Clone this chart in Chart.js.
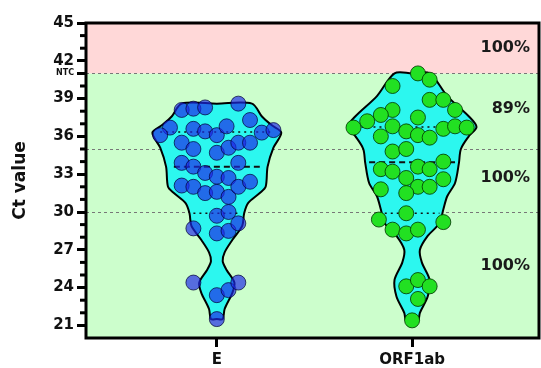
<!DOCTYPE html>
<html>
<head>
<meta charset="utf-8">
<script src="https://cdn.jsdelivr.net/npm/chart.js@4.4.1/dist/chart.umd.min.js"></script>
<style>
  html, body { margin: 0; padding: 0; background: #fff; }
  #wrap { width: 541px; height: 368px; }
</style>
</head>
<body>
<div id="wrap"><canvas id="violinChart"></canvas></div>
<script>
const categories = ['E', 'ORF1ab'];

// Ct of each sample and its sideways scatter offset (category units)
const eCt = [38.1, 38.2, 38.3, 38.6, 37.3, 36.7, 36.6, 36.4, 36.1, 36.8, 36.3, 36.5, 36.1, 35.5, 35.0, 34.7, 35.1, 35.5, 35.5,
  33.9, 33.6, 33.1, 32.8, 32.7, 33.9, 32.1, 32.0, 31.5, 31.6, 31.2, 32.0, 32.4, 29.7, 30.0, 28.7, 28.3, 28.5, 29.1,
  24.4, 23.4, 23.8, 24.4, 21.5];
const eOffset = [-0.18, -0.12, -0.06, 0.11, 0.17, -0.24, -0.12, -0.06, 0, 0.05, 0.23, 0.29, -0.29, -0.18, -0.12, 0, 0.06, 0.11, 0.17,
  -0.18, -0.12, -0.06, 0, 0.06, 0.11, -0.18, -0.12, -0.06, 0, 0.06, 0.11, 0.17, 0, 0.06, -0.12, 0, 0.06, 0.11,
  -0.12, 0, 0.06, 0.11, 0];
const orfCt = [41.0, 40.5, 40.0, 38.9, 38.9, 38.1, 38.1, 37.7, 37.2, 37.5, 36.7, 36.8, 36.4, 36.1, 35.9, 36.6, 36.8, 36.7, 36.0,
  34.8, 35.0, 33.4, 33.2, 32.7, 33.6, 33.4, 34.0, 32.6, 32.0, 32.0, 31.8, 31.5, 29.9, 29.4, 29.2, 28.6, 28.3, 28.6,
  24.1, 24.6, 24.1, 23.1, 21.4];
const orfOffset = [0.03, 0.09, -0.10, 0.09, 0.16, 0.22, -0.10, -0.16, -0.23, 0.03, -0.30, -0.10, -0.03, 0.03, 0.09, 0.16, 0.22, 0.28, -0.16,
  -0.10, -0.03, -0.16, -0.10, -0.03, 0.03, 0.09, 0.16, 0.16, 0.03, 0.09, -0.16, -0.03, -0.03, -0.17, 0.16, -0.10, -0.03, 0.03,
  -0.03, 0.03, 0.09, 0.03, 0];

// violin outline, top to bottom: Ct level and half width (category units)
const eViolinCt = [38.6, 37.6, 36.9, 36.3, 35.1, 33.6, 32.0, 31.5, 30.7, 29.9, 28.9, 27.8, 26.8, 26.1, 25.4, 24.4, 23.6, 22.3, 21.5];
const eViolinHalf = [0.18, 0.23, 0.28, 0.33, 0.29, 0.26, 0.25, 0.22, 0.16, 0.14, 0.13, 0.08, 0.04, 0.03, 0.05, 0.09, 0.08, 0.04, 0.03];
const orfViolinCt = [41.0, 39.2, 37.6, 36.75, 36.0, 35.0, 33.9, 32.3, 31.25, 30.2, 29.1, 28.1, 27.0, 26.0, 24.6, 23.3, 22.0, 21.3];
const orfViolinHalf = [0.09, 0.18, 0.29, 0.33, 0.29, 0.25, 0.24, 0.22, 0.18, 0.16, 0.14, 0.08, 0.04, 0.05, 0.09, 0.08, 0.04, 0.03];

// quartiles: Q1, median, Q3 and the half width of each line
const eQuartCt = [29.9, 33.6, 36.35];
const eQuartHalf = [0.12, 0.22, 0.29];
const orfQuartCt = [29.9, 33.95, 36.75];
const orfQuartHalf = [0.14, 0.22, 0.29];

const yTicks = [21, 24, 27, 30, 33, 36, 39, 42, 45];
const ntcCt = 41;
const cutoffCt = [41, 35, 30];
const bandEdges = [20, 41, 45];
const percentText = ['100%', '89%', '100%', '100%'];
const percentCt = [43.0, 38.2, 32.7, 25.7];

const FONT = 'DejaVu Sans';

function violinPath(center, cts, halves) {
  const last = cts.length - 1;
  const right = cts.map((c, i) => ({ x: center + halves[i], y: c }));
  const left = cts.map((c, i) => ({ x: center - halves[i], y: c })).reverse();
  return [{ x: center, y: cts[0] }, ...right, { x: center, y: cts[last] }, ...left, { x: center, y: cts[0] }];
}

function points(center, cts, offs) {
  return cts.map((c, i) => ({ x: center + offs[i], y: c }));
}

function quartLine(center, ct, half) {
  return [{ x: center - half, y: ct }, { x: center + half, y: ct }];
}

const datasets = [];
datasets.push({
  data: points(1, eCt, eOffset), order: 0, showLine: false,
  pointRadius: 7.5, pointHoverRadius: 7.5, borderWidth: 1,
  backgroundColor: 'rgba(30, 40, 230, 0.68)', borderColor: 'rgba(0, 0, 50, 0.7)'
});
datasets.push({
  data: points(2, orfCt, orfOffset), order: 0, showLine: false,
  pointRadius: 7.5, pointHoverRadius: 7.5, borderWidth: 1,
  backgroundColor: '#22e022', borderColor: 'rgba(0, 50, 0, 0.8)'
});
[[1, eQuartCt, eQuartHalf], [2, orfQuartCt, orfQuartHalf]].forEach(([c, cts, halves]) => {
  cts.forEach((ct, i) => {
    datasets.push({
      data: quartLine(c, ct, halves[i]), order: 1, showLine: true, pointRadius: 0,
      borderColor: '#111', borderWidth: i === 1 ? 2 : 1.6,
      borderDash: i === 1 ? [6, 4] : [2, 4]
    });
  });
});
datasets.push({
  data: violinPath(1, eViolinCt, eViolinHalf), order: 3, showLine: true, pointRadius: 0,
  tension: 0.3, fill: 'shape', backgroundColor: '#2cf7ef', borderColor: '#000', borderWidth: 2
});
datasets.push({
  data: violinPath(2, orfViolinCt, orfViolinHalf), order: 3, showLine: true, pointRadius: 0,
  tension: 0.3, fill: 'shape', backgroundColor: '#2cf7ef', borderColor: '#000', borderWidth: 2
});

const backdrop = {
  id: 'backdrop',
  beforeDatasetsDraw(chart) {
    const { ctx, chartArea: a, scales: { y } } = chart;
    const colors = ['#ccfecc', '#ffd8d8'];
    ctx.save();
    for (let i = 0; i < bandEdges.length - 1; i++) {
      const top = y.getPixelForValue(bandEdges[i + 1]);
      const bot = y.getPixelForValue(bandEdges[i]);
      ctx.fillStyle = colors[i];
      ctx.fillRect(a.left, top, a.right - a.left, bot - top);
    }
    ctx.strokeStyle = '#777';
    ctx.lineWidth = 1;
    ctx.setLineDash([3, 3]);
    cutoffCt.forEach(v => {
      const py = Math.round(y.getPixelForValue(v)) + 0.5;
      ctx.beginPath();
      ctx.moveTo(a.left, py);
      ctx.lineTo(a.right, py);
      ctx.stroke();
    });
    ctx.restore();
  },
  afterDatasetsDraw(chart) {
    const { ctx, chartArea: a, scales: { y } } = chart;
    ctx.save();
    // minor ticks
    ctx.strokeStyle = '#000';
    ctx.lineWidth = 3;
    for (let v = 21; v <= 45; v++) {
      if (yTicks.includes(v) || v === ntcCt) continue;
      const py = y.getPixelForValue(v);
      ctx.beginPath();
      ctx.moveTo(a.left - 6, py);
      ctx.lineTo(a.left, py);
      ctx.stroke();
    }
    // frame
    ctx.strokeRect(a.left, a.top, a.right - a.left, a.bottom - a.top);
    // percent labels
    ctx.fillStyle = '#1a1a1a';
    ctx.font = 'bold 16px "' + FONT + '"';
    ctx.textAlign = 'right';
    ctx.textBaseline = 'middle';
    percentText.forEach((t, i) => {
      ctx.fillText(t, a.right - 9, y.getPixelForValue(percentCt[i]));
    });
    ctx.restore();
  }
};

Chart.defaults.font.family = FONT;
Chart.defaults.color = '#111';

new Chart(document.getElementById('violinChart'), {
  type: 'scatter',
  data: { datasets },
  plugins: [backdrop],
  options: {
    responsive: true,
    maintainAspectRatio: false,
    animation: false,
    layout: { autoPadding: false, padding: { top: 23, right: 2, left: 0, bottom: 0 } },
    plugins: { legend: { display: false }, tooltip: { enabled: false } },
    scales: {
      x: {
        type: 'linear', min: 0.33, max: 2.65,
        afterBuildTicks: s => { s.ticks = categories.map((c, i) => ({ value: i + 1 })); },
        afterFit: s => { s.height = 30; },
        grid: { drawOnChartArea: false, tickLength: 9, tickWidth: 3, tickColor: '#000' },
        border: { display: false },
        ticks: {
          padding: 4,
          font: { size: 15, weight: 'bold' },
          callback: v => categories[v - 1]
        }
      },
      y: {
        type: 'linear', min: 20, max: 45,
        afterBuildTicks: s => {
          s.ticks = [...yTicks, ntcCt].sort((a, b) => a - b).map(v => ({ value: v }));
        },
        afterFit: s => { s.width = 86; },
        grid: { drawOnChartArea: false, tickLength: 9, tickWidth: 3, tickColor: '#000' },
        border: { display: false },
        title: {
          display: true, text: 'Ct value',
          font: { size: 17, weight: 'bold' },
          padding: { top: 10, bottom: 0 }
        },
        ticks: {
          padding: 3,
          font: c => (c.tick && c.tick.value === ntcCt) ? { size: 8, weight: 'bold' } : { size: 15, weight: 'bold' },
          callback: v => v === ntcCt ? 'NTC' : String(v)
        }
      }
    }
  }
});
</script>
</body>
</html>
